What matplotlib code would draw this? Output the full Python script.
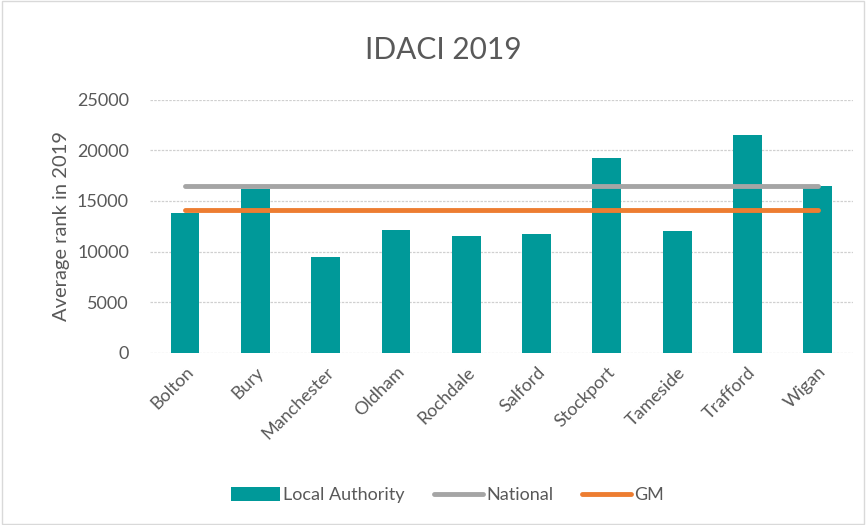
import matplotlib
matplotlib.use("Agg")
import matplotlib.pyplot as plt
import numpy as np

# Data
areas = ["Bolton", "Bury", "Manchester", "Oldham", "Rochdale",
         "Salford", "Stockport", "Tameside", "Trafford", "Wigan"]
local_authority = [13800, 16200, 9500, 12150, 11500, 11700, 19200, 12000, 21500, 16500]
national = [16450] * len(areas)
gm = [14100] * len(areas)

teal = "#009999"
grey_line = "#A5A5A5"
orange = "#ED7D31"
text_col = "#595959"

plt.rcParams['font.family'] = ['Lato', 'DejaVu Sans']

fig = plt.figure(figsize=(8.66, 5.25), dpi=100)
ax = fig.add_axes([0.173, 0.328, 0.812, 0.482])

x = np.arange(len(areas))
bars = ax.bar(x, local_authority, width=0.41, color=teal, label="Local Authority", zorder=2)
l1, = ax.plot(x, national, color=grey_line, lw=3.5, solid_capstyle="round", label="National", zorder=3)
l2, = ax.plot(x, gm, color=orange, lw=3.5, solid_capstyle="round", label="GM", zorder=4)

ax.set_xlim(-0.5, len(areas) - 0.5)
ax.set_ylim(0, 25000)
ax.set_yticks(range(0, 25001, 5000))
ax.yaxis.grid(True, color="#D0D0D0", linestyle=(0, (2, 1)), lw=0.9, zorder=0)
ax.set_axisbelow(True)
for s in ax.spines.values():
    s.set_visible(False)
ax.tick_params(axis="both", length=0, colors=text_col, labelsize=13)
ax.tick_params(axis="y", pad=15)
ax.set_xticks(x)
ax.set_xticklabels(areas, rotation=45, ha="right", rotation_mode="anchor")
ax.tick_params(axis="x", pad=8)

ax.set_ylabel("Average rank in 2019", color=text_col, fontsize=14.5, labelpad=5)
fig.text(0.512, 0.905, "IDACI 2019", ha="center", va="center", fontsize=21.5, color=text_col)

fig.legend(handles=[bars, l1, l2], loc="center", bbox_to_anchor=(0.517, 0.057), ncol=3,
           frameon=False, fontsize=13, labelcolor=text_col, handlelength=2.7,
           handleheight=0.8, columnspacing=1.6, handletextpad=0.2)

# light chart border
fig.patches.append(plt.Rectangle((0.002, 0.002), 0.996, 0.996, transform=fig.transFigure,
                                 fill=False, edgecolor="#D9D9D9", lw=1))

fig.savefig("out.png", dpi=100)
